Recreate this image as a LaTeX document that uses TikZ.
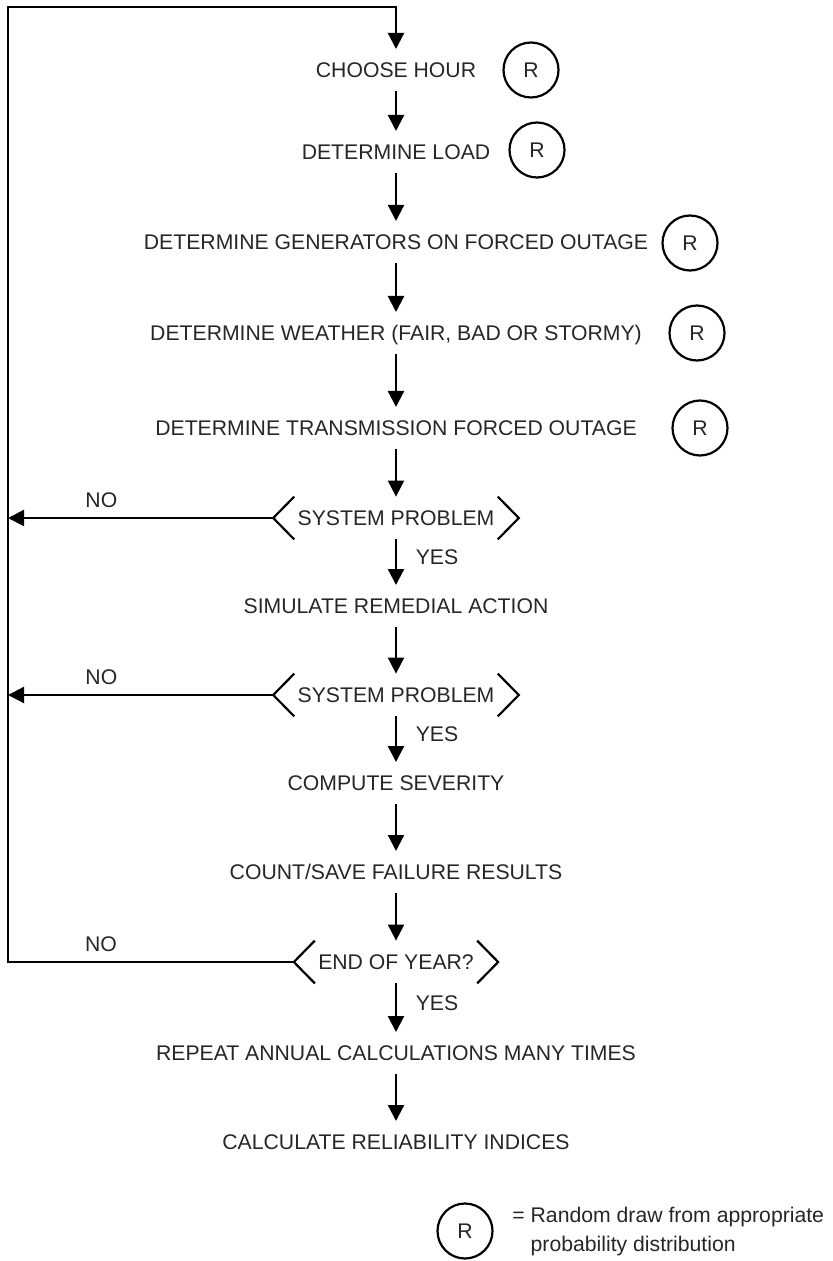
\documentclass[tikz,border=0pt]{standalone}
\usepackage{fontspec}
\setmainfont{Liberation Sans}
\usepackage{tikz}
\usetikzlibrary{arrows.meta, positioning}

\begin{document}
\begin{tikzpicture}[
  x=0.5pt, y=-0.5pt,
  every node/.style={font=\fontsize{10.6pt}{14.5pt}\selectfont, text=black!85},
  stepbox/.style={inner xsep=2pt, inner ysep=6.5pt, text height=7.6pt, text depth=0pt},
  decision/.style={inner xsep=12pt, inner ysep=0pt, minimum height=21pt,
                   text height=7.6pt, text depth=0pt},
  rnd/.style={circle, draw, line width=1.1pt, minimum size=27.5pt, inner sep=0pt},
  line/.style={line width=1.1pt},
  arrow/.style={line, -{Triangle[length=8pt, width=8pt]}}
]
  \useasboundingbox (0,0) rectangle (832,1261);

  % main column
  \node[stepbox] (hour)     at (396,70)   {CHOOSE HOUR};
  \node[stepbox] (load)     at (396,152)  {DETERMINE LOAD};
  \node[stepbox] (gens)     at (396,242)  {DETERMINE GENERATORS ON FORCED OUTAGE};
  \node[stepbox] (weather)  at (396,333)  {DETERMINE WEATHER (FAIR, BAD OR STORMY)};
  \node[stepbox] (trans)    at (396,428)  {DETERMINE TRANSMISSION FORCED OUTAGE};
  \node[decision] (sys1)    at (396,518)  {SYSTEM PROBLEM};
  \node[stepbox] (remedial) at (396,606)  {SIMULATE REMEDIAL ACTION};
  \node[decision] (sys2)    at (396,695)  {SYSTEM PROBLEM};
  \node[stepbox] (severity) at (396,783)  {COMPUTE SEVERITY};
  \node[stepbox] (count)    at (396,872)  {COUNT/SAVE FAILURE RESULTS};
  \node[decision] (endyr)   at (396,962)  {END OF YEAR?};
  \node[stepbox] (repeat)   at (396,1053) {REPEAT ANNUAL CALCULATIONS MANY TIMES};
  \node[stepbox] (indices)  at (396,1142) {CALCULATE RELIABILITY INDICES};

  % random draws
  \node[rnd] (r1) at (531,70)  {R};
  \node[rnd] (r2) at (537,150) {R};
  \node[rnd] (r3) at (690,243) {R};
  \node[rnd] (r4) at (697,333) {R};
  \node[rnd] (r5) at (700,428) {R};

  % chevrons of the decisions
  \foreach \d in {sys1, sys2, endyr} {
    \draw[line] ([xshift=10.5pt]\d.north west) -- (\d.west) -- ([xshift=10.5pt]\d.south west);
    \draw[line] ([xshift=-10.5pt]\d.north east) -- (\d.east) -- ([xshift=-10.5pt]\d.south east);
  }

  \coordinate (corner) at (8,7);

  \draw[arrow] (hour) -- (load);
  \draw[arrow] (load) -- (gens);
  \draw[arrow] (gens) -- (weather);
  \draw[arrow] (weather) -- (trans);
  \draw[arrow] (trans) -- (sys1);
  \draw[arrow] (sys1) -- node[right=6pt, pos=.4] {YES} (remedial);
  \draw[arrow] (remedial) -- (sys2);
  \draw[arrow] (sys2) -- node[right=6pt, pos=.4] {YES} (severity);
  \draw[arrow] (severity) -- (count);
  \draw[arrow] (count) -- (endyr);
  \draw[arrow] (endyr) -- node[right=6pt, pos=.4] {YES} (repeat);
  \draw[arrow] (repeat) -- (indices);

  % loops back
  \draw[arrow] (sys1.west) -- node[above=1.5pt, pos=.648] {NO} (sys1.west -| corner);
  \draw[arrow] (sys2.west) -- node[above=1.5pt, pos=.648] {NO} (sys2.west -| corner);
  \draw[arrow] (endyr.west) -- node[above=1.5pt, pos=.675] {NO} (endyr.west -| corner)
    -- (corner) -| (hour.north);

  % legend
  \node[rnd] (key) at (465,1231) {R};
  \node[anchor=west, align=left, inner sep=0pt] (keytext) at (512,1231)
    {\begin{tabular}{@{}l@{ }l@{}}= & Random draw from appropriate\\ & probability distribution\end{tabular}};
\end{tikzpicture}
\end{document}
